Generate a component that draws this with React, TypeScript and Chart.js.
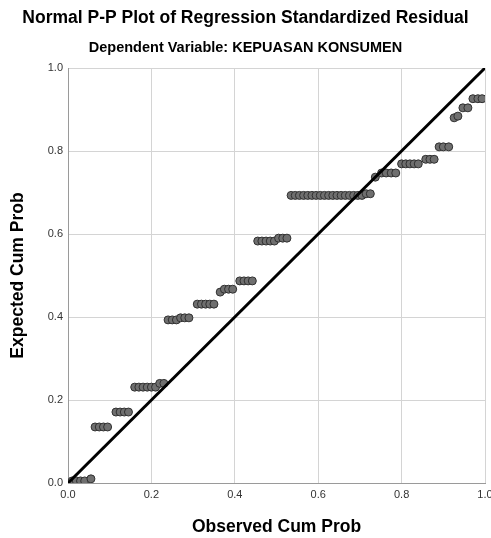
import React, { useEffect, useRef } from "react";
import { Chart, registerables } from "chart.js";

Chart.register(...registerables);

const titleText = "Normal P-P Plot of Regression Standardized Residual";
const subtitleText = "Dependent Variable: KEPUASAN KONSUMEN";
const xAxisTitle = "Observed Cum Prob";
const yAxisTitle = "Expected Cum Prob";

const observedCumProb = [
  0.01, 0.02, 0.03, 0.04, 0.055,
  0.065, 0.075, 0.085, 0.095,
  0.115, 0.125, 0.135, 0.145,
  0.16, 0.17, 0.18, 0.19, 0.2, 0.21, 0.22, 0.23,
  0.24, 0.25, 0.26, 0.27, 0.28, 0.29,
  0.31, 0.32, 0.33, 0.34, 0.35,
  0.365, 0.375, 0.385, 0.395,
  0.412, 0.422, 0.432, 0.442,
  0.455, 0.465, 0.475, 0.485, 0.495, 0.505, 0.515, 0.525,
  0.535, 0.545, 0.555, 0.565, 0.575, 0.585, 0.595, 0.605, 0.615,
  0.625, 0.635, 0.645, 0.655, 0.665, 0.675, 0.685, 0.695, 0.705,
  0.715, 0.725,
  0.737, 0.752, 0.763, 0.775, 0.786,
  0.8, 0.81, 0.82, 0.83, 0.84,
  0.858, 0.868, 0.878,
  0.89, 0.9, 0.913,
  0.926, 0.935, 0.947, 0.959,
  0.971, 0.983, 0.993,
];

const expectedCumProb = [
  0.005, 0.005, 0.005, 0.005, 0.01,
  0.135, 0.135, 0.135, 0.135,
  0.171, 0.171, 0.171, 0.171,
  0.231, 0.231, 0.231, 0.231, 0.231, 0.231, 0.24, 0.24,
  0.393, 0.393, 0.393, 0.398, 0.398, 0.398,
  0.431, 0.431, 0.431, 0.431, 0.431,
  0.46, 0.467, 0.467, 0.467,
  0.487, 0.487, 0.487, 0.487,
  0.583, 0.583, 0.583, 0.583, 0.583, 0.59, 0.59, 0.59,
  0.693, 0.693, 0.693, 0.693, 0.693, 0.693, 0.693, 0.693, 0.693,
  0.693, 0.693, 0.693, 0.693, 0.693, 0.693, 0.693, 0.693, 0.693,
  0.697, 0.697,
  0.737, 0.747, 0.747, 0.747, 0.747,
  0.769, 0.769, 0.769, 0.769, 0.769,
  0.78, 0.78, 0.78,
  0.81, 0.81, 0.81,
  0.88, 0.884, 0.904, 0.904,
  0.926, 0.926, 0.926,
];

const referenceLineX = [0, 1];
const referenceLineY = [0, 1];

const tickValues = [0, 0.2, 0.4, 0.6, 0.8, 1.0];

export default function App() {
  const canvasRef = useRef<HTMLCanvasElement | null>(null);

  useEffect(() => {
    if (!canvasRef.current) return;
    const points = observedCumProb.map((x, i) => ({ x, y: expectedCumProb[i] }));
    const line = referenceLineX.map((x, i) => ({ x, y: referenceLineY[i] }));
    const family = "'Liberation Sans', Arial, sans-serif";
    const tickFont = { family, size: 11 };
    const titleFont = { family, size: 17.5, weight: "bold" as const, lineHeight: 1.2 };
    const subtitleFont = { family, size: 14.5, weight: "bold" as const, lineHeight: 1.2 };

    const chart = new Chart(canvasRef.current, {
      type: "scatter",
      data: {
        datasets: [
          {
            label: "Reference",
            type: "line",
            data: line,
            borderColor: "#000000",
            borderWidth: 3,
            pointRadius: 0,
            fill: false,
            order: 0,
          } as any,
          {
            label: "Residuals",
            data: points,
            backgroundColor: "#6f6f6f",
            borderColor: "#303030",
            borderWidth: 1,
            pointRadius: 4,
            order: 1,
          },
        ],
      },
      options: {
        animation: false,
        responsive: false,
        maintainAspectRatio: false,
        layout: { padding: 0 },
        plugins: {
          legend: { display: false },
          tooltip: { enabled: false },
          title: {
            display: true,
            text: titleText,
            color: "#000000",
            font: titleFont,
            padding: { top: 7.5, bottom: 5 },
          },
          subtitle: {
            display: true,
            text: subtitleText,
            color: "#000000",
            font: subtitleFont,
            padding: { top: 6, bottom: 11.1 },
          },
        },
        scales: {
          x: {
            type: "linear",
            min: 0,
            max: 1,
            afterBuildTicks: (scale: any) => {
              scale.ticks = tickValues.map((v) => ({ value: v }));
            },
            afterFit: (scale: any) => {
              scale.height = 55;
              scale.paddingRight = 6;
            },
            ticks: {
              color: "#333333",
              font: tickFont,
              padding: 5,
              maxRotation: 0,
              callback: (v: any) => Number(v).toFixed(1),
            },
            grid: { color: "#d4d4d4", lineWidth: 1, drawTicks: false },
            border: { color: "#9a9a9a", width: 1 },
            title: {
              display: true,
              text: xAxisTitle,
              color: "#000000",
              font: titleFont,
              padding: { top: 0, bottom: 0 },
            },
          },
          y: {
            type: "linear",
            min: 0,
            max: 1,
            afterBuildTicks: (scale: any) => {
              scale.ticks = tickValues.map((v) => ({ value: v }));
            },
            afterFit: (scale: any) => {
              scale.width = 68;
            },
            ticks: {
              color: "#333333",
              font: tickFont,
              padding: 5,
              callback: (v: any) => Number(v).toFixed(1),
            },
            grid: { color: "#d4d4d4", lineWidth: 1, drawTicks: false },
            border: { color: "#9a9a9a", width: 1 },
            title: {
              display: true,
              text: yAxisTitle,
              color: "#000000",
              font: titleFont,
              padding: { top: 8, bottom: 0 },
            },
          },
        },
      },
    });
    return () => chart.destroy();
  }, []);

  return (
    <div style={{ position: "absolute", left: 0, top: 0, width: 491, height: 538, background: "#ffffff" }}>
      <canvas ref={canvasRef} width={491} height={538} style={{ display: "block", width: 491, height: 538 }} />
    </div>
  );
}
